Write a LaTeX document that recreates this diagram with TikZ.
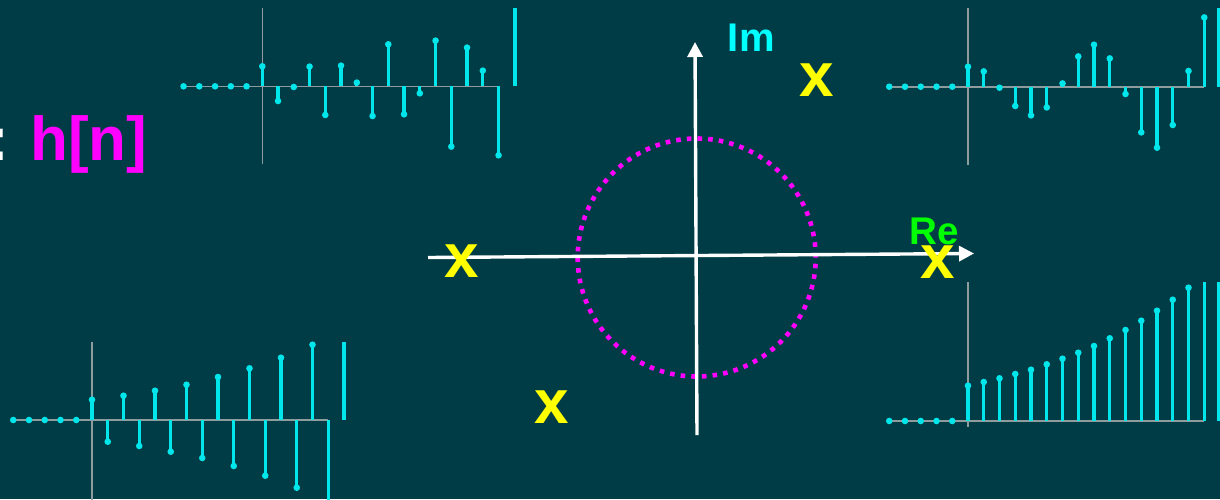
\documentclass[tikz,border=0pt]{standalone}
\usepackage{fontspec}
\setmainfont{Liberation Sans}
\usetikzlibrary{arrows.meta}
\definecolor{bgteal}{RGB}{0,60,70}
\definecolor{stemcyan}{RGB}{0,230,234}
\definecolor{axgray}{RGB}{142,156,158}
\definecolor{unitpink}{RGB}{255,0,255}
\definecolor{imcyan}{RGB}{0,255,255}
\definecolor{regreen}{RGB}{0,255,0}
\definecolor{poleyellow}{RGB}{255,255,0}
\tikzset{
  stemline/.style={stemcyan,line width=1.6pt},
  seqaxis/.style={axgray,line width=0.8pt},
  planeaxis/.style={white,line width=1.7pt,-{Triangle[length=7.5pt,width=7.5pt]}},
  polemark/.style={text=poleyellow,inner sep=0pt,font=\fontsize{31pt}{31pt}\selectfont\bfseries},
}

\begin{document}
\begin{tikzpicture}[x=0.5pt,y=-0.5pt]
\useasboundingbox (0,0) rectangle (1220,499);
\fill[bgteal] (0,0) rectangle (1220,499);
\clip (0,0) rectangle (1220,499);

% top left sequence
\draw[seqaxis] (183,86.3) -- (499,86.3);
\draw[seqaxis] (262.3,8.3) -- (262.3,164.3);
\foreach \k in {1,...,5}
  \fill[stemcyan] ({262.3-15.75*\k},86.3) circle[radius=1.65pt];
\foreach \h [count=\n from 0] in {20,-14.7,-0.7,19.7,-28.7,20.7,3.7,-29.7,42,-28,-7,45.7,-60.3,38.7,15.7,-69} {
  \draw[stemline] ({262.3+15.75*\n},86.3) -- ({262.3+15.75*\n},{86.3-(\h)});
  \fill[stemcyan] ({262.3+15.75*\n},{86.3-(\h)}) circle[radius=1.65pt];
}
\draw[stemline] (515,8.3) -- (515,86.3);

% top right sequence
\draw[seqaxis] (889,86.7) -- (1204,86.7);
\draw[seqaxis] (968,8.3) -- (968,165);
\foreach \k in {1,...,5}
  \fill[stemcyan] ({968-15.75*\k},86.7) circle[radius=1.65pt];
\foreach \h [count=\n from 0] in {20,15.3,-1,-19.3,-28.7,-20.7,3.3,30.3,42,28.3,-7.3,-45.7,-61,-38.3,15.7,69.3} {
  \draw[stemline] ({968+15.75*\n},86.7) -- ({968+15.75*\n},{86.7-(\h)});
  \fill[stemcyan] ({968+15.75*\n},{86.7-(\h)}) circle[radius=1.65pt];
}
\draw[stemline] (1219,8.3) -- (1219,86.7);

% bottom left sequence
\draw[seqaxis] (13,420) -- (328.3,420);
\draw[seqaxis] (92,341.7) -- (92,505);
\foreach \k in {1,...,5}
  \fill[stemcyan] ({92-15.75*\k},420) circle[radius=1.65pt];
\foreach \h [count=\n from 0] in {20.3,-21.7,24.3,-26,29.3,-31.7,35.3,-38,43,-46,51.7,-55.7,62.3,-67.7,75.3} {
  \draw[stemline] ({92+15.75*\n},420) -- ({92+15.75*\n},{420-(\h)});
  \fill[stemcyan] ({92+15.75*\n},{420-(\h)}) circle[radius=1.65pt];
}
\draw[stemline] (328.3,420) -- (328.3,505);
\draw[stemline] (344,341.7) -- (344,420);

% bottom right sequence
\draw[seqaxis] (889,421) -- (1204,421);
\draw[seqaxis] (968,281.7) -- (968,427.3);
\foreach \k in {1,...,5}
  \fill[stemcyan] ({968-15.75*\k},421) circle[radius=1.65pt];
\foreach \h [count=\n from 0] in {35.3,39,42.7,47,51.3,56.7,62.3,68.3,75,82.7,91,100.3,110.3,121.3,133.3} {
  \draw[stemline] ({968+15.75*\n},421) -- ({968+15.75*\n},{421-(\h)});
  \fill[stemcyan] ({968+15.75*\n},{421-(\h)}) circle[radius=1.65pt];
}
\draw[stemline] (1204.3,421) -- (1204.3,281.7);
\draw[stemline] (1219,421) -- (1219,281.7);

% z-plane
\draw[unitpink,line width=2.3pt,dash pattern=on 2.3pt off 3.04pt] (696.7,257.5) circle[radius=59.5pt];
\coordinate (reL) at (428,257.5);
\coordinate (reR) at (974,253.5);
\coordinate (imB) at (697,435);
\coordinate (imT) at (695,42);
\draw[planeaxis] (reL) -- (reR);
\draw[planeaxis] (imB) -- (imT);
\node[text=regreen,inner sep=0pt,anchor=base west,font=\fontsize{19.3pt}{19.3pt}\selectfont\bfseries] (relabel) at (909,244.3) {Re};
\node[text=imcyan,inner sep=0pt,anchor=base west,font=\fontsize{20pt}{20pt}\selectfont\bfseries] (imlabel) at (727.5,51.7) {Im};

% poles
\node[polemark] (poleA) at (461.5,261) {x};
\node[polemark] (poleB) at (552,406.7) {x};
\node[polemark] (poleC) at (816.7,80.3) {x};
\node[polemark] (poleD) at (937.3,261.7) {x};

% label
\node[text=white,inner sep=0pt,anchor=base,font=\fontsize{31pt}{31pt}\selectfont\bfseries] (colon) at (-1,160) {:};
\node[text=unitpink,inner sep=0pt,anchor=base west,font=\fontsize{31pt}{31pt}\selectfont\bfseries] (hlabel) at (30,160) {h[n]};
\end{tikzpicture}
\end{document}
